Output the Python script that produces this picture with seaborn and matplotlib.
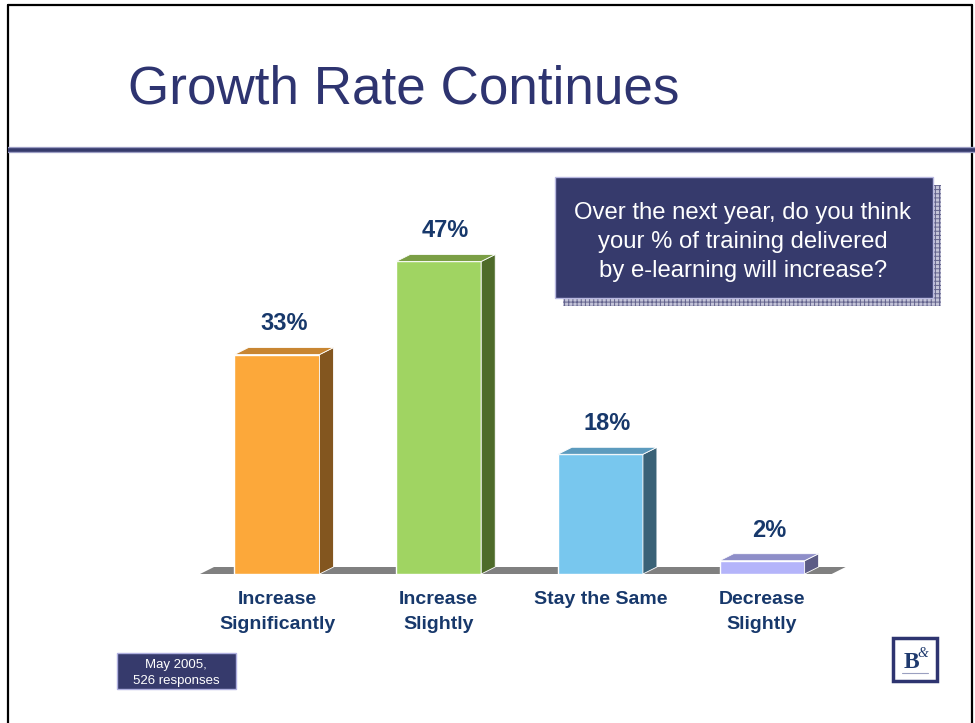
import matplotlib
matplotlib.use("Agg")
import matplotlib.pyplot as plt
from matplotlib.patches import Polygon, Rectangle
import seaborn as sns
import pandas as pd

# ---------------- data ----------------
categories = ["Increase\nSignificantly", "Increase\nSlightly", "Stay the Same", "Decrease\nSlightly"]
percent = [33, 47, 18, 2]
value_labels = ["33%", "47%", "18%", "2%"]

front_colors = ["#FCA83A", "#A0D462", "#78C7EE", "#B4B4FA"]
top_colors = ["#C88632", "#7B9F45", "#5C9BBE", "#8E8EC8"]
side_colors = ["#83561F", "#4E6B2A", "#3A6277", "#5C5C86"]

title = "Growth Rate Continues"
question_lines = ["Over the next year, do you think",
                  "your % of training delivered",
                  "by e-learning will increase?"]
note_lines = ["May 2005,", "526 responses"]

NAVY = "#2E3470"
BOX = "#363A6C"
LABEL = "#17386B"

W, H = 975, 723
sns.set_theme(style="white")
plt.rcParams['font.family'] = ['Liberation Sans', 'DejaVu Sans']
plt.rcParams['hatch.linewidth'] = 0.7

fig = plt.figure(figsize=(W / 100, H / 100), dpi=100)
fig.patch.set_facecolor("white")

# background / decoration layer in pixel coordinates
bg = fig.add_axes([0, 0, 1, 1], zorder=0)
bg.set_xlim(0, W)
bg.set_ylim(H, 0)
bg.axis("off")

# frame
bg.plot([8, 8], [5, H], color="black", lw=1.6)
bg.plot([8, 972], [5, 5], color="black", lw=1.6)
bg.plot([972, 972], [5, H], color="black", lw=1.6)
# horizontal rule under title
bg.plot([8, W], [150, 150], color="#9C9EC4", lw=4.5, solid_capstyle="butt")
bg.plot([8, W], [150, 150], color=BOX, lw=2.6, solid_capstyle="butt")

# title
bg.text(128, 104, title, fontsize=38.2, color=NAVY, ha="left", va="baseline")

# question box with hatched shadow
bg.add_patch(Rectangle((563, 185), 378, 121, facecolor="#C4C4D8",
                       edgecolor="#62628C", hatch="++++", lw=0))
bg.add_patch(Rectangle((555, 177), 378, 121, facecolor=BOX,
                       edgecolor="#B8B8E0", lw=1))
for i, line in enumerate(question_lines):
    bg.text(743, 219 + i * 29, line, fontsize=17.2, color="white",
            ha="center", va="baseline")

# note box
bg.add_patch(Rectangle((117, 653), 119, 36, facecolor=BOX,
                       edgecolor="#B0B0E0", lw=1))
for i, line in enumerate(note_lines):
    bg.text(176, 668 + i * 16, line, fontsize=9.5, color="white",
            ha="center", va="baseline")

# logo
bg.add_patch(Rectangle((893, 638), 44, 43, facecolor="white",
                       edgecolor=NAVY, lw=2.5))
bg.text(911, 668, "B", fontsize=17, fontweight="bold", color="#1F3A6E",
        family=["Liberation Serif", "DejaVu Serif"], ha="center", va="baseline")
bg.text(923, 657, "&", fontsize=10, fontstyle="italic", color="#1F3A6E",
        family=["Liberation Serif", "DejaVu Serif"], ha="center", va="baseline")
bg.plot([902, 928], [673, 673], color="#9AA0C0", lw=0.8)

# ---------------- bar chart ----------------
px_per_cat = 161.7
px_per_pct = 6.65
base_px = 574
left_px = 277 - px_per_cat / 2
ax = fig.add_axes([left_px / W, (H - base_px) / H,
                   4 * px_per_cat / W, 50 * px_per_pct / H], zorder=2)
ax.set_facecolor("none")

df = pd.DataFrame({"category": categories, "percent": percent})
sns.barplot(data=df, x="category", y="percent", hue="category",
            palette=front_colors, saturation=1, legend=False,
            width=0.526, edgecolor="white", linewidth=1, ax=ax, zorder=2)

ax.set_xlim(-0.5, 3.5)
ax.set_ylim(0, 50)
for s in ax.spines.values():
    s.set_visible(False)
ax.set_yticks([])
ax.set_xlabel("")
ax.set_ylabel("")
ax.tick_params(axis="x", length=0, pad=12.5)
for t in ax.get_xticklabels():
    t.set_fontsize(14)
    t.set_fontweight("bold")
    t.set_color(LABEL)
    t.set_linespacing(1.55)

dx = 14 / px_per_cat
dy = 7 / px_per_pct

# floor
x0, x1 = ax.get_xlim()
fx0, fx1 = x0 + 0.024, x1 - 0.07
ax.add_patch(Polygon([(fx0, 0), (fx1, 0), (fx1 + dx, dy), (fx0 + dx, dy)],
                     closed=True, facecolor="#808080", edgecolor="none",
                     zorder=1, clip_on=False))

# 3D faces and value labels
for patch, tc, sc, lab in zip(ax.patches, top_colors, side_colors, value_labels):
    x = patch.get_x()
    w = patch.get_width()
    h = patch.get_height()
    ax.add_patch(Polygon([(x + w, 0), (x + w + dx, dy), (x + w + dx, h + dy), (x + w, h)],
                         closed=True, facecolor=sc, edgecolor="white", lw=0.6,
                         zorder=2, clip_on=False))
    ax.add_patch(Polygon([(x, h), (x + w, h), (x + w + dx, h + dy), (x + dx, h + dy)],
                         closed=True, facecolor=tc, edgecolor="white", lw=0.6,
                         zorder=2, clip_on=False))
    ax.annotate(lab, xy=(x + w / 2 + dx / 2, h), xytext=(0, 22),
                textcoords="offset points", ha="center", va="center",
                fontsize=17, fontweight="bold", color=LABEL)

fig.savefig("out.png", dpi=100)
